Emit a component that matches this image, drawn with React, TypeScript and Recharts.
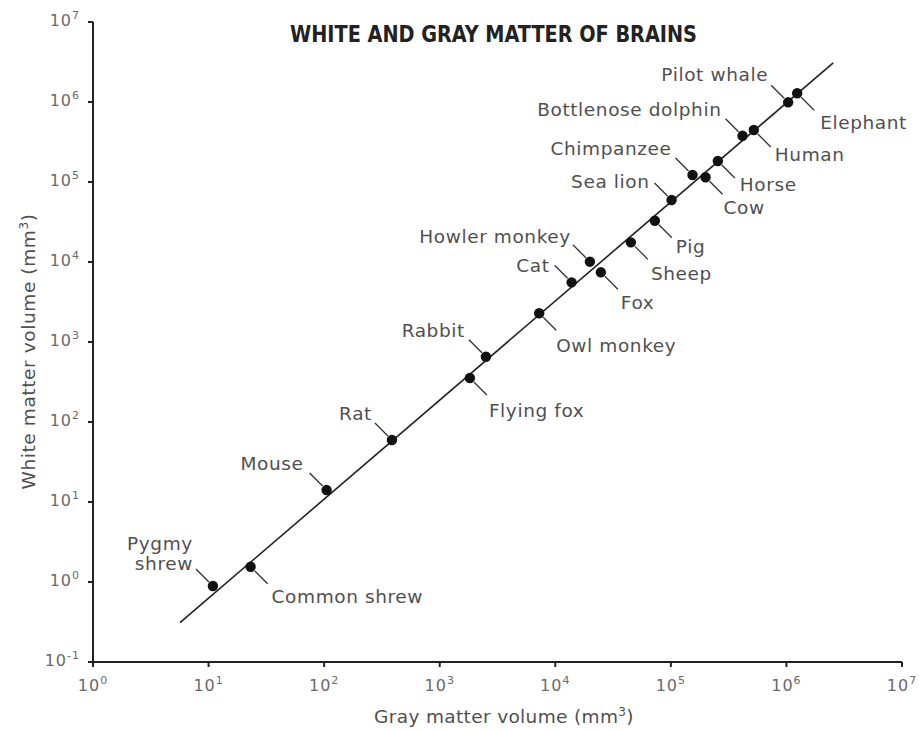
import React from 'react';
import { ScatterChart, Scatter, XAxis, YAxis } from 'recharts';

// ---------- data ----------
const species = [
  'Pygmy shrew', 'Common shrew', 'Mouse', 'Rat', 'Flying fox', 'Rabbit', 'Owl monkey', 'Cat',
  'Howler monkey', 'Fox', 'Sheep', 'Pig', 'Sea lion', 'Chimpanzee', 'Cow', 'Horse',
  'Bottlenose dolphin', 'Human', 'Pilot whale', 'Elephant',
];
const grayMatter = [
  10.9, 23.1, 105, 386, 1824, 2510, 7260, 13840,
  19920, 24800, 45100, 72700, 101400, 154000, 199600, 255000,
  417000, 522000, 1035000, 1239000,
];
const whiteMatter = [
  0.89, 1.55, 14.1, 59.6, 355, 655, 2285, 5570,
  10090, 7430, 17600, 32800, 59600, 122400, 114500, 183000,
  379000, 447000, 991000, 1285000,
];
const fitGray = [5.66, 2540000];
const fitWhite = [0.31, 3090000];

const xTicks = [1, 10, 100, 1000, 10000, 100000, 1000000, 10000000];
const xTickExponents = ['0', '1', '2', '3', '4', '5', '6', '7'];
const yTicks = [0.1, 1, 10, 100, 1000, 10000, 100000, 1000000, 10000000];
const yTickExponents = ['-1', '0', '1', '2', '3', '4', '5', '6', '7'];

const titleText = 'WHITE AND GRAY MATTER OF BRAINS';
const xTitle = 'Gray matter volume (mm';
const yTitle = 'White matter volume (mm';

// ---------- label layout (style only) ----------
type Lay = { side: 'ul' | 'lr'; dx: number; dy: number; wrap?: boolean };
const labelLayout: Record<string, Lay> = {
  'Pygmy shrew': { side: 'ul', dx: -20, dy: -43, wrap: true },
  'Common shrew': { side: 'lr', dx: 21, dy: 29 },
  Mouse: { side: 'ul', dx: -23, dy: -27 },
  Rat: { side: 'ul', dx: -20, dy: -27 },
  'Flying fox': { side: 'lr', dx: 19, dy: 32 },
  Rabbit: { side: 'ul', dx: -21, dy: -27 },
  'Owl monkey': { side: 'lr', dx: 17, dy: 32 },
  Cat: { side: 'ul', dx: -22, dy: -17 },
  'Howler monkey': { side: 'ul', dx: -19, dy: -26 },
  Fox: { side: 'lr', dx: 20, dy: 30 },
  Sheep: { side: 'lr', dx: 20, dy: 31 },
  Pig: { side: 'lr', dx: 21, dy: 25 },
  'Sea lion': { side: 'ul', dx: -22, dy: -19 },
  Chimpanzee: { side: 'ul', dx: -21, dy: -27 },
  Cow: { side: 'lr', dx: 18, dy: 30 },
  Horse: { side: 'lr', dx: 22, dy: 23 },
  'Bottlenose dolphin': { side: 'ul', dx: -21, dy: -27 },
  Human: { side: 'lr', dx: 21, dy: 24 },
  'Pilot whale': { side: 'ul', dx: -20, dy: -28 },
  Elephant: { side: 'lr', dx: 23, dy: 29 },
};

const points = species.map((name, i) => ({ name, x: grayMatter[i], y: whiteMatter[i] }));
const fitData = fitGray.map((x, i) => ({ x, y: fitWhite[i] }));

const LABEL_FONT = "'DejaVu Sans', sans-serif";
const TEXT_COLOR = '#505050';
const TICK_COLOR = '#6a6a6a';

const DotWithLabel = (props: any) => {
  const { cx, cy, payload } = props;
  if (cx == null || cy == null) return <g />;
  const lay = labelLayout[payload.name];
  const s = lay.side === 'ul' ? -1 : 1;
  const lines = lay.wrap ? payload.name.split(' ') : [payload.name];
  const tx = cx + lay.dx;
  return (
    <g>
      <line x1={cx + s * 4} y1={cy + s * 4} x2={cx + s * 17} y2={cy + s * 17} stroke="#333" strokeWidth={1.3} />
      <circle cx={cx} cy={cy} r={5.2} fill="#111" />
      <text
        textAnchor={s < 0 ? 'end' : 'start'}
        fontFamily={LABEL_FONT}
        fontSize={18.5}
        letterSpacing={0.6}
        fill={TEXT_COLOR}
      >
        {lines.map((l: string, i: number) => (
          <tspan key={i} x={tx} y={cy + lay.dy + i * 20 + 7}>
            {l}
          </tspan>
        ))}
      </text>
    </g>
  );
};

const NoShape = () => <g />;

const XTick = (props: any) => {
  const { x, y, payload, index } = props;
  const exp = xTickExponents[index] ?? String(Math.round(Math.log10(payload.value)));
  return (
    <text x={x} y={y + 22} textAnchor="middle" fontFamily={LABEL_FONT} fontSize={16} letterSpacing={1} fill={TICK_COLOR}>
      <tspan>10</tspan>
      <tspan dy={-7} fontSize={11}>{exp}</tspan>
    </text>
  );
};

const YTick = (props: any) => {
  const { x, y, payload, index } = props;
  const exp = yTickExponents[index] ?? String(Math.round(Math.log10(payload.value)));
  return (
    <text x={x - 6} y={y + 4} textAnchor="end" fontFamily={LABEL_FONT} fontSize={16} letterSpacing={1} fill={TICK_COLOR}>
      <tspan>10</tspan>
      <tspan dy={-7} fontSize={11}>{exp}</tspan>
    </text>
  );
};

const W = 919;
const H = 730;

export default function App() {
  return (
    <div style={{ position: 'fixed', left: 0, top: 0, width: W, height: H, background: '#fff' }}>
      <ScatterChart width={W} height={H} margin={{ top: 22, right: 17, bottom: 28, left: 33 }}>
        <XAxis
          type="number"
          dataKey="x"
          scale="log"
          domain={[1, 10000000]}
          ticks={xTicks}
          interval={0}
          height={40}
          tickSize={5}
          axisLine={{ stroke: '#222', strokeWidth: 2 }}
          tickLine={{ stroke: '#222', strokeWidth: 2 }}
          tick={<XTick />}
        />
        <YAxis
          type="number"
          dataKey="y"
          scale="log"
          domain={[0.1, 10000000]}
          ticks={yTicks}
          interval={0}
          width={60}
          tickSize={5}
          axisLine={{ stroke: '#222', strokeWidth: 2 }}
          tickLine={{ stroke: '#222', strokeWidth: 2 }}
          tick={<YTick />}
        />
        <Scatter
          data={fitData}
          line={{ stroke: '#222', strokeWidth: 1.6 }}
          shape={NoShape}
          isAnimationActive={false}
        />
        <Scatter data={points} shape={DotWithLabel} isAnimationActive={false} />
      </ScatterChart>
      <svg
        width={W}
        height={H}
        style={{ position: 'absolute', left: 0, top: 0, pointerEvents: 'none', overflow: 'visible' }}
      >
        <text
          x={493.5}
          y={42}
          textAnchor="middle"
          fontFamily="'Liberation Sans Narrow', 'DejaVu Sans Condensed', sans-serif"
          fontWeight="bold"
          fontSize={23}
          fill="#222"
          textLength={407}
          lengthAdjust="spacingAndGlyphs"
        >
          {titleText}
        </text>
        <text x={504} y={723} textAnchor="middle" fontFamily={LABEL_FONT} fontSize={18.5} letterSpacing={0.35} fill={TEXT_COLOR}>
          {xTitle}
          <tspan dy={-7} fontSize={12}>3</tspan>
          <tspan dy={7}>)</tspan>
        </text>
        <text
          transform="translate(35 351.5) rotate(-90)"
          textAnchor="middle"
          fontFamily={LABEL_FONT}
          fontSize={18.5}
          letterSpacing={0.6}
          fill={TEXT_COLOR}
        >
          {yTitle}
          <tspan dy={-7} fontSize={12}>3</tspan>
          <tspan dy={7}>)</tspan>
        </text>
      </svg>
    </div>
  );
}
